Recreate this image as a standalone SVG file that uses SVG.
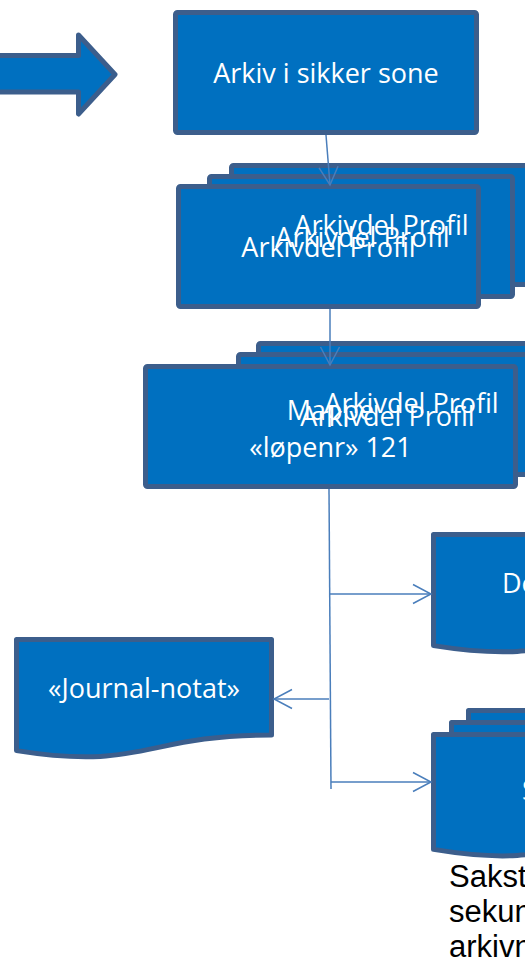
<svg xmlns="http://www.w3.org/2000/svg" width="525" height="961" viewBox="0 0 525 961">
<defs>
<style>
.n{fill:#0070C0;stroke:#3C5E8C;stroke-width:5;stroke-linejoin:round}
.t{fill:#FFFFFF;font-family:"Open Sans","DejaVu Sans",sans-serif;font-size:27px}
.c{fill:none;stroke:#4A7EBB;stroke-width:1.5}
.b{fill:#000000;font-family:"Liberation Sans",Arial,sans-serif;font-size:31px}
</style>
<marker id="ah" markerUnits="userSpaceOnUse" markerWidth="24" markerHeight="24" viewBox="-20 -12 24 24" refX="0" refY="0" orient="auto">
<path d="M-18,-9.5 L0,0 L-18,9.5" fill="none" stroke="#4A7EBB" stroke-width="1.5"/>
</marker>
</defs>
<rect width="525" height="961" fill="#FFFFFF"/>

<g id="big-arrow">
<polygon class="n" points="-5,55.5 78.5,55.5 78.5,35 115,74.5 78.5,114 78.5,92 -5,92"/>
</g>

<g id="arkiv">
<rect class="n" x="175.5" y="12.5" width="301" height="120" rx="2"/>
<text class="t" x="326" y="83" text-anchor="middle">Arkiv i sikker sone</text>
</g>

<g id="arkivdel-stack">
<rect class="n" x="231.5" y="165.5" width="303" height="119" rx="2"/>
<rect class="n" x="209.5" y="176.5" width="303" height="120" rx="2"/>
<rect class="n" x="178.5" y="186.5" width="300" height="120" rx="2"/>
<text class="t" x="381.5" y="235" text-anchor="middle">Arkivdel Profil</text>
<text class="t" x="362.5" y="247" text-anchor="middle">Arkivdel Profil</text>
<text class="t" x="328.5" y="257" text-anchor="middle">Arkivdel Profil</text>
</g>

<g id="mappe-stack">
<rect class="n" x="258.5" y="343.5" width="370" height="120" rx="2"/>
<rect class="n" x="238.5" y="354.5" width="370" height="120" rx="2"/>
<rect class="n" x="145.5" y="366.5" width="370" height="120" rx="2"/>
<text class="t" x="411.5" y="413" text-anchor="middle">Arkivdel Profil</text>
<text class="t" x="387.5" y="426" text-anchor="middle">Arkivdel Profil</text>
<text class="t" x="330.5" y="420" text-anchor="middle">Mappe</text>
<text class="t" x="330.5" y="457" text-anchor="middle">«løpenr» 121</text>
</g>

<g id="dokument">
<path class="n" d="M433.5,534.5 H688.5 V630 C561,630 561,666 433.5,645.6 Z"/>
<text class="t" x="502" y="593">Dokument</text>
</g>

<g id="journal-notat">
<path class="n" d="M16.5,639.5 H271.5 V735 C144,735 144,771 16.5,750.6 Z"/>
<text class="t" x="144" y="698" text-anchor="middle">«Journal-notat»</text>
</g>

<g id="sak-stack">
<path class="n" d="M468.5,710.5 H723.5 V809 C596,809 596,846.7 468.5,825.4 Z"/>
<path class="n" d="M451.5,722.5 H706.5 V821 C579,821 579,858.7 451.5,837.4 Z"/>
<path class="n" d="M433.5,734.5 H688.5 V833 C561,833 561,870.7 433.5,849.4 Z"/>
<text class="t" x="522" y="800">Sak</text>
</g>

<g id="sak-label">
<text class="b" x="449" y="887">Sakstype</text>
<text class="b" x="449" y="922">sekundær</text>
<text class="b" x="449" y="957">arkivnøkkel</text>
</g>

<g id="connectors">
<line class="c" x1="326" y1="135" x2="330" y2="185" marker-end="url(#ah)"/>
<line class="c" x1="330" y1="309" x2="330" y2="365" marker-end="url(#ah)"/>
<line class="c" x1="329" y1="489" x2="331" y2="789"/>
<line class="c" x1="330" y1="594" x2="431" y2="594" marker-end="url(#ah)"/>
<line class="c" x1="329" y1="699" x2="274" y2="699" marker-end="url(#ah)"/>
<line class="c" x1="331" y1="782" x2="431" y2="782" marker-end="url(#ah)"/>
</g>
</svg>
